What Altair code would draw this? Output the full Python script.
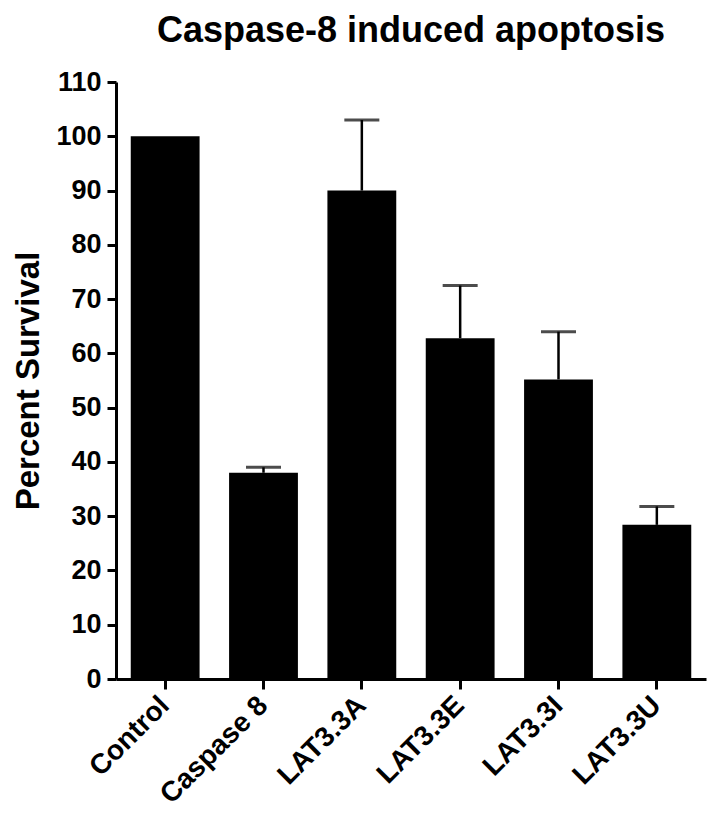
import altair as alt
import pandas as pd

groups = ["Control", "Caspase 8", "LAT3.3A", "LAT3.3E", "LAT3.3I", "LAT3.3U"]
survival = [100, 38, 90, 62.8, 55.2, 28.4]
error_top = [100, 39, 103, 72.5, 64, 31.8]

df = pd.DataFrame({"group": groups, "value": survival, "upper": error_top})

FONT = "Liberation Sans"

x = alt.X("group:N", sort=groups, title=None,
          scale=alt.Scale(paddingInner=0.3, paddingOuter=0.15),
          axis=alt.Axis(labelAngle=-45, labelFontSize=28, labelFontWeight="bold",
                        labelFont=FONT, labelColor="black", domainColor="black",
                        domainWidth=3, tickColor="black", tickWidth=3, tickSize=10,
                        labelPadding=12))
y = alt.Y("value:Q", title="Percent Survival",
          scale=alt.Scale(domain=[0, 110], nice=False),
          axis=alt.Axis(values=list(range(0, 111, 10)), labelFontSize=27,
                        labelFontWeight="bold", labelFont=FONT, labelColor="black",
                        titleFontSize=33, titleFont=FONT, titleFontWeight="bold",
                        titleColor="black", titlePadding=10, domainColor="black",
                        domainWidth=3, tickColor="black", tickWidth=3, tickSize=9,
                        labelPadding=6, grid=False))

base = alt.Chart(df)
bars = base.mark_bar(color="black").encode(x=x, y=y)
err_src = base.transform_filter("datum.upper > datum.value")
err = err_src.mark_rule(color="black", strokeWidth=2.5).encode(
    x=alt.X("group:N", sort=groups), y="value:Q", y2="upper:Q")
cap = err_src.mark_tick(color="black", size=35, thickness=3).encode(
    x=alt.X("group:N", sort=groups), y="upper:Q")

chart = alt.layer(err, cap, bars).properties(
    width=590, height=597,
    title=alt.TitleParams("Caspase-8 induced apoptosis", fontSize=36,
                          font=FONT, fontWeight="bold", color="black",
                          anchor="middle", offset=18),
    autosize="none",
    padding={"left": 108, "top": 74, "right": 2, "bottom": 137},
).configure_view(stroke=None)

chart.save("out.html", embed_options={"renderer": "svg", "actions": False})
